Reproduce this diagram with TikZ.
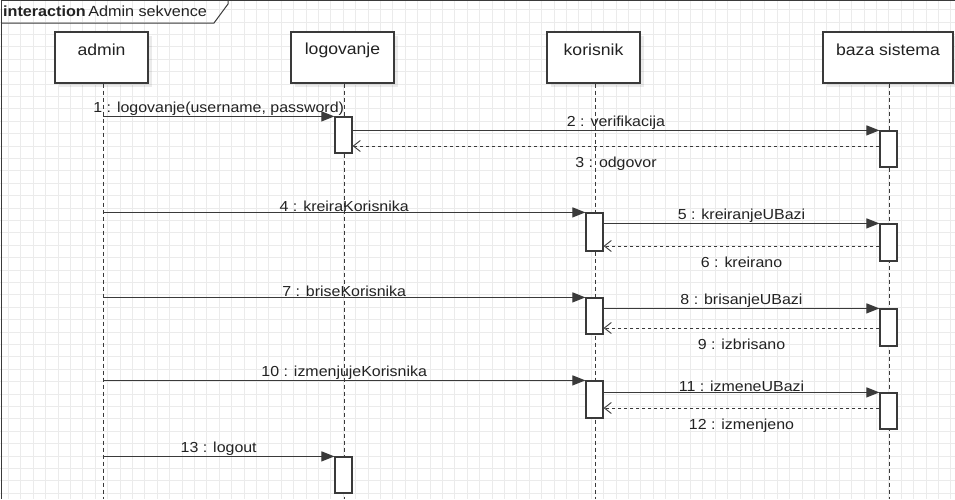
\documentclass[tikz,border=0pt]{standalone}
\usepackage{fontspec}
\setmainfont{Liberation Sans}[FakeStretch=1.1]
\usetikzlibrary{arrows.meta,shadows}
\definecolor{linec}{HTML}{3A3A3A}
\definecolor{gridc}{HTML}{EBEBEB}
\definecolor{txtc}{HTML}{222222}
\tikzset{
  head/.style={draw=linec, line width=1.2pt, fill=white, minimum width=93pt, minimum height=51pt, inner sep=0pt,
    drop shadow={shadow xshift=4pt, shadow yshift=-4pt, fill=black, opacity=0.08}},
  headtxt/.style={text=txtc, font=\fontsize{16}{19}\selectfont, inner sep=0pt},
  lifeline/.style={draw=linec, line width=0.8pt, dash pattern=on 4pt off 3pt},
  act/.style={draw=linec, line width=1.2pt, fill=white, minimum width=17pt, inner sep=0pt},
  msg/.style={draw=linec, line width=1.1pt, -{Triangle[length=13pt,width=10pt]}},
  ret/.style={draw=linec, line width=0.9pt, dash pattern=on 3pt off 3pt, -{Straight Barb[length=7pt,width=11pt]}},
  lbl/.style={text=txtc, font=\fontsize{14.5}{17}\selectfont, inner sep=0pt},
}
\begin{document}
\begin{tikzpicture}[x=1pt,y=-1pt]
\useasboundingbox (0,0) rectangle (955,499);
\fill[white] (0,0) rectangle (955,499);
% grid
\foreach \i in {0,...,77} {\draw[gridc, line width=0.8pt] (8.4+12.4*\i,0) -- (8.4+12.4*\i,499);}
\foreach \j in {0,...,40} {\draw[gridc, line width=0.8pt] (0,9.6+12.4*\j) -- (955,9.6+12.4*\j);}
% frame
\draw[linec, line width=1pt] (1,499) -- (1,0.5) -- (955,0.5);
\draw[linec, line width=1pt] (228,0) -- (228,4) -- (214,23) -- (1,23);
\node[anchor=west, inner sep=0pt, text=txtc, font=\fontsize{14.7}{18}\selectfont] (title) at (3,11.5) {\textbf{interaction}\,Admin sekvence};
% lifeline heads
\node[head] (admin) at (101.5,57.5) {};
\node[head, minimum width=103pt] (logov) at (342.5,57.5) {};
\node[head] (koris) at (593.5,57.5) {};
\node[head, minimum width=130pt] (baza) at (888,57.5) {};
\node[headtxt] (tadmin) at (101.5,50) {admin};
\node[headtxt] (tlogov) at (342.5,50) {logovanje};
\node[headtxt] (tkoris) at (593.5,50) {korisnik};
\node[headtxt] (tbaza) at (888,50) {baza sistema};
% lifelines
\coordinate (adminEnd) at (103,499);
\coordinate (logovEnd) at (344,499);
\coordinate (korisEnd) at (595,499);
\coordinate (bazaEnd) at (889,499);
\draw[lifeline] (admin.south -| adminEnd) -- (adminEnd);
\draw[lifeline] (logov.south -| logovEnd) -- (logovEnd);
\draw[lifeline] (koris.south -| korisEnd) -- (korisEnd);
\draw[lifeline] (baza.south -| bazaEnd) -- (bazaEnd);
% activations
\node[act, minimum height=36pt] (a1) at (343.5,135) {};
\node[act, minimum height=36pt] (b1) at (888.5,149) {};
\node[act, minimum height=38pt] (k1) at (594.5,232) {};
\node[act, minimum height=37pt] (b2) at (888.5,242.5) {};
\node[act, minimum height=36pt] (k2) at (594.5,316) {};
\node[act, minimum height=37pt] (b3) at (888.5,327.5) {};
\node[act, minimum height=37pt] (k3) at (594.5,399.5) {};
\node[act, minimum height=36pt] (b4) at (888.5,411) {};
\node[act, minimum height=36pt] (a2) at (343.5,475) {};
% message y levels
\coordinate (y3) at (0,146);
\coordinate (y6) at (0,246);
\coordinate (y9) at (0,328);
\coordinate (y12) at (0,408);
% messages
\draw[msg] (adminEnd |- a1.north) -- node[lbl, above=0pt] (l1) {1 : logovanje(username, password)} (a1.north west);
\draw[msg] (a1.east |- b1.north) -- node[lbl, above=0pt] (l2) {2 : verifikacija} (b1.north west);
\draw[ret] (b1.west |- y3) -- node[lbl, below=10.5pt] (l3) {3 : odgovor} (a1.east |- y3);
\draw[msg] (adminEnd |- k1.north) -- node[lbl, above=0pt] (l4) {4 : kreiraKorisnika} (k1.north west);
\draw[msg] (k1.east |- b2.north) -- node[lbl, above=0pt] (l5) {5 : kreiranjeUBazi} (b2.north west);
\draw[ret] (b2.west |- y6) -- node[lbl, below=10.5pt] (l6) {6 : kreirano} (k1.east |- y6);
\draw[msg] (adminEnd |- k2.north) -- node[lbl, above=0pt] (l7) {7 : briseKorisnika} (k2.north west);
\draw[msg] (k2.east |- b3.north) -- node[lbl, above=0pt] (l8) {8 : brisanjeUBazi} (b3.north west);
\draw[ret] (b3.west |- y9) -- node[lbl, below=10.5pt] (l9) {9 : izbrisano} (k2.east |- y9);
\draw[msg] (adminEnd |- k3.north) -- node[lbl, above=0pt] (l10) {10 : izmenjujeKorisnika} (k3.north west);
\draw[msg] (k3.east |- b4.north) -- node[lbl, above=0pt] (l11) {11 : izmeneUBazi} (b4.north west);
\draw[ret] (b4.west |- y12) -- node[lbl, below=10.5pt] (l12) {12 : izmenjeno} (k3.east |- y12);
\draw[msg] (adminEnd |- a2.north) -- node[lbl, above=0pt] (l13) {13 : logout} (a2.north west);
\end{tikzpicture}
\end{document}
